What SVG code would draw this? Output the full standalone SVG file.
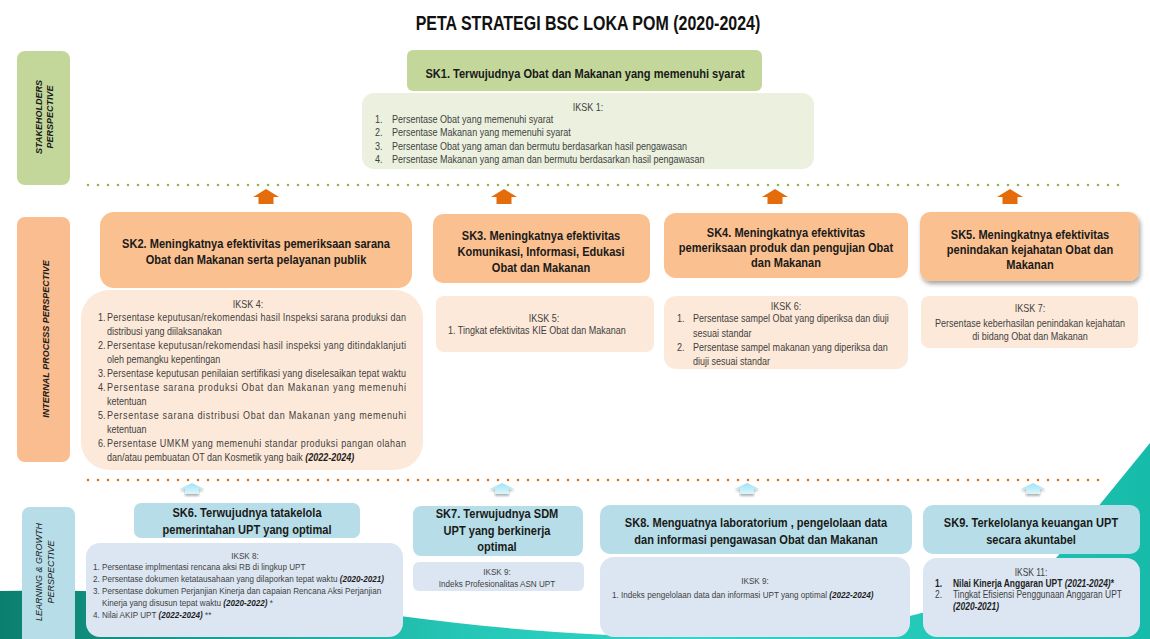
<svg xmlns="http://www.w3.org/2000/svg" width="1150" height="639" viewBox="0 0 1150 639">
<defs>
<style>
text{font-family:"Liberation Sans",Arial,sans-serif}
.ttl{font-size:19.5px;font-weight:bold;fill:#111;text-anchor:middle}
.sk{font-size:13.5px;font-weight:bold;fill:#1a1a1a;text-anchor:middle}
.b{font-size:11px;fill:#3f3f3f}
.s{font-size:9.9px;fill:#3f3f3f}
.s2{font-size:10.3px;fill:#3f3f3f}
.c{text-anchor:middle}
.bi{font-weight:bold;font-style:italic;fill:#1f1f1f}
.bd{font-weight:bold;fill:#1f1f1f}
.lab{font-size:9px;font-style:italic;fill:#1a1a1a;text-anchor:middle}
.g1{fill:#c4d79b}.g2{fill:#ebf1de}.o1{fill:#fac090}.o2{fill:#fde9d9}.u1{fill:#b7dee8}.u2{fill:#dce6f2}
.oa{fill:#e46c0a}
.ba{fill:url(#bag);filter:url(#ash)}
</style>
<linearGradient id="teal" x1="0" y1="0" x2="1" y2="0">
<stop offset="0" stop-color="#0b7f6f"/>
<stop offset="0.4" stop-color="#25c6b6"/>
<stop offset="0.6" stop-color="#30d6c8"/>
<stop offset="1" stop-color="#16bba9"/>
</linearGradient>
<linearGradient id="bag" x1="0" y1="0" x2="0" y2="1">
<stop offset="0" stop-color="#9fe3f5"/>
<stop offset="1" stop-color="#dcf6fc"/>
</linearGradient>
<filter id="sh" x="-10%" y="-20%" width="125%" height="150%">
<feDropShadow dx="1.5" dy="3" stdDeviation="2" flood-color="#000" flood-opacity="0.35"/>
</filter>
<filter id="ash" x="-40%" y="-40%" width="180%" height="220%">
<feDropShadow dx="0" dy="2" stdDeviation="1.2" flood-color="#000" flood-opacity="0.3"/>
</filter>
<path id="oarr" d="M-13,8 L0,0 L13,8 L7.5,8 L7.5,15 L-7.5,15 L-7.5,8 Z"/>
<path id="barr" d="M-12.5,6 L0,0 L12.5,6 L7,6 L7,11 L-7,11 L-7,6 Z"/>
</defs>

<rect width="1150" height="639" fill="#ffffff"/>
<path id="wave" d="M0,591 C120,588 260,598 400,616 C520,632 640,640 760,636 C860,632 960,610 1040,570 L1057,557 L1150,443 L1150,639 L0,639 Z" fill="url(#teal)"/>

<text class="ttl" transform="matrix(.82 0 0 1 588 30)">PETA STRATEGI BSC LOKA POM (2020-2024)</text>

<!-- perspective labels -->
<g id="lab-stakeholders">
<rect class="g1" x="17" y="51" width="53" height="134" rx="8"/>
<text class="lab" font-weight="bold" transform="translate(41.5,117) rotate(-90)">STAKEHOLDERS</text>
<text class="lab" font-weight="bold" transform="translate(52.5,117) rotate(-90)">PERSPECTIVE</text>
</g>
<g id="lab-internal">
<rect x="17" y="217" width="53" height="245" rx="8" fill="#f9bd8f"/>
<text class="lab" font-weight="bold" transform="translate(48.5,339) rotate(-90)">INTERNAL PROCESS PERSPECTIVE</text>
</g>
<g id="lab-learning">
<rect class="u1" x="22" y="507" width="53" height="150" rx="8"/>
<text class="lab" font-size="9.6" transform="translate(41.5,572) rotate(-90)">LEARNING &amp; GROWTH</text>
<text class="lab" font-size="9.6" transform="translate(53.5,572) rotate(-90)">PERSPECTIVE</text>
</g>

<!-- connectors -->
<g id="connectors">
<line x1="88" y1="185" x2="1125" y2="185" stroke="#8fb54a" stroke-width="2.6" stroke-linecap="round" stroke-dasharray="0 10"/>
<line x1="88" y1="480" x2="1105" y2="480" stroke="#e46c0a" stroke-width="2.6" stroke-linecap="round" stroke-dasharray="0 10"/>
<use href="#oarr" class="oa" x="266" y="189"/>
<use href="#oarr" class="oa" x="504" y="189"/>
<use href="#oarr" class="oa" x="775" y="189"/>
<use href="#oarr" class="oa" x="1010" y="189"/>
<use href="#barr" class="ba" x="192" y="483"/>
<use href="#barr" class="ba" x="502" y="483"/>
<use href="#barr" class="ba" x="747" y="483"/>
<use href="#barr" class="ba" x="1033" y="483"/>
</g>

<!-- SK1 -->
<g id="sk1">
<rect class="g1" x="407" y="50" width="355" height="41" rx="6"/>
<text class="sk" transform="matrix(.82 0 0 1 585 77.5)">SK1. Terwujudnya Obat dan Makanan yang memenuhi syarat</text>
</g>
<g id="iksk1">
<rect class="g2" x="362" y="93" width="452" height="76" rx="12"/>
<text class="b c" transform="matrix(.82 0 0 1 588 111)">IKSK 1:</text>
<text class="b" transform="matrix(.82 0 0 1 375 123)">1.</text><text class="b" transform="matrix(.82 0 0 1 392 123)">Persentase Obat yang memenuhi syarat</text>
<text class="b" transform="matrix(.82 0 0 1 375 136.3)">2.</text><text class="b" transform="matrix(.82 0 0 1 392 136.3)">Persentase Makanan yang memenuhi syarat</text>
<text class="b" transform="matrix(.82 0 0 1 375 149.7)">3.</text><text class="b" transform="matrix(.82 0 0 1 392 149.7)">Persentase Obat yang aman dan bermutu berdasarkan hasil pengawasan</text>
<text class="b" transform="matrix(.82 0 0 1 375 163)">4.</text><text class="b" transform="matrix(.82 0 0 1 392 163)">Persentase Makanan yang aman dan bermutu berdasarkan hasil pengawasan</text>
</g>

<!-- SK2 -->
<g id="sk2">
<rect class="o1" x="100" y="212" width="312" height="76" rx="14"/>
<text class="sk" transform="matrix(.82 0 0 1 256 247.5)">SK2. Meningkatnya efektivitas pemeriksaan sarana</text>
<text class="sk" transform="matrix(.82 0 0 1 256 263.5)">Obat dan Makanan serta pelayanan publik</text>
</g>
<g id="iksk4">
<rect class="o2" x="81" y="290" width="342" height="180" rx="28"/>
<text class="b c" transform="matrix(.82 0 0 1 248 308)">IKSK 4:</text>
<text class="b" transform="matrix(.82 0 0 1 98 321)">1.</text><text class="b" transform="matrix(.82 0 0 1 107 321)" textLength="364.6" lengthAdjust="spacing">Persentase keputusan/rekomendasi hasil Inspeksi sarana produksi dan</text>
<text class="b" transform="matrix(.82 0 0 1 107 335)">distribusi yang diilaksanakan</text>
<text class="b" transform="matrix(.82 0 0 1 98 349)">2.</text><text class="b" transform="matrix(.82 0 0 1 107 349)" textLength="364.6" lengthAdjust="spacing">Persentase keputusan/rekomendasi hasil inspeksi yang ditindaklanjuti</text>
<text class="b" transform="matrix(.82 0 0 1 107 363)">oleh pemangku kepentingan</text>
<text class="b" transform="matrix(.82 0 0 1 98 377)">3.</text><text class="b" transform="matrix(.82 0 0 1 107 377)" textLength="364.6" lengthAdjust="spacing">Persentase keputusan penilaian sertifikasi yang diselesaikan tepat waktu</text>
<text class="b" transform="matrix(.82 0 0 1 98 391)">4.</text><text class="b" transform="matrix(.82 0 0 1 107 391)" textLength="364.6" lengthAdjust="spacing">Persentase sarana produksi Obat dan Makanan yang memenuhi</text>
<text class="b" transform="matrix(.82 0 0 1 107 405)">ketentuan</text>
<text class="b" transform="matrix(.82 0 0 1 98 419)">5.</text><text class="b" transform="matrix(.82 0 0 1 107 419)" textLength="364.6" lengthAdjust="spacing">Persentase sarana distribusi Obat  dan Makanan yang memenuhi</text>
<text class="b" transform="matrix(.82 0 0 1 107 433)">ketentuan</text>
<text class="b" transform="matrix(.82 0 0 1 98 447)">6.</text><text class="b" transform="matrix(.82 0 0 1 107 447)" textLength="364.6" lengthAdjust="spacing">Persentase UMKM yang memenuhi standar produksi pangan olahan</text>
<text class="b" transform="matrix(.82 0 0 1 107 461)">dan/atau pembuatan OT dan Kosmetik yang baik <tspan class="bi">(2022-2024)</tspan></text>
</g>

<!-- SK3 -->
<g id="sk3">
<rect class="o1" x="433" y="214" width="217" height="69" rx="10"/>
<text class="sk" transform="matrix(.82 0 0 1 541 240)">SK3. Meningkatnya efektivitas</text>
<text class="sk" transform="matrix(.82 0 0 1 541 256)">Komunikasi, Informasi, Edukasi</text>
<text class="sk" transform="matrix(.82 0 0 1 541 272)">Obat dan Makanan</text>
</g>
<g id="iksk5">
<rect class="o2" x="436" y="296" width="218" height="56" rx="8"/>
<text class="b c" transform="matrix(.82 0 0 1 544 322)">IKSK 5:</text>
<text class="b" transform="matrix(.82 0 0 1 448 334)">1. Tingkat efektivitas KIE Obat dan Makanan</text>
</g>

<!-- SK4 -->
<g id="sk4">
<rect class="o1" x="664" y="213" width="244" height="65" rx="12"/>
<text class="sk" transform="matrix(.82 0 0 1 786 237)">SK4. Meningkatnya efektivitas</text>
<text class="sk" transform="matrix(.82 0 0 1 786 252)">pemeriksaan produk dan pengujian Obat</text>
<text class="sk" transform="matrix(.82 0 0 1 786 267)">dan Makanan</text>
</g>
<g id="iksk6">
<rect class="o2" x="664" y="296" width="244" height="73" rx="12"/>
<text class="b c" transform="matrix(.82 0 0 1 786 310)">IKSK 6:</text>
<text class="b" transform="matrix(.82 0 0 1 677 322)">1.</text><text class="b" transform="matrix(.82 0 0 1 693 322)">Persentase sampel Obat yang diperiksa dan diuji</text>
<text class="b" transform="matrix(.82 0 0 1 693 337)">sesuai standar</text>
<text class="b" transform="matrix(.82 0 0 1 677 351)">2.</text><text class="b" transform="matrix(.82 0 0 1 693 351)">Persentase sampel makanan yang diperiksa dan</text>
<text class="b" transform="matrix(.82 0 0 1 693 365)">diuji sesuai standar</text>
</g>

<!-- SK5 -->
<g id="sk5">
<rect class="o1" x="920" y="212" width="219" height="69" rx="10" filter="url(#sh)"/>
<text class="sk" transform="matrix(.82 0 0 1 1030 239)">SK5. Meningkatnya efektivitas</text>
<text class="sk" transform="matrix(.82 0 0 1 1030 254)">penindakan kejahatan Obat dan</text>
<text class="sk" transform="matrix(.82 0 0 1 1030 269)">Makanan</text>
</g>
<g id="iksk7">
<rect class="o2" x="921" y="296" width="217" height="52" rx="8"/>
<text class="b c" transform="matrix(.82 0 0 1 1030 312)">IKSK 7:</text>
<text class="b c" transform="matrix(.82 0 0 1 1030 327)">Persentase keberhasilan penindakan kejahatan</text>
<text class="b c" transform="matrix(.82 0 0 1 1030 340)">di bidang Obat dan Makanan</text>
</g>

<!-- SK6 -->
<g id="sk6">
<rect class="u1" x="134" y="503" width="226" height="35" rx="7"/>
<text class="sk" transform="matrix(.82 0 0 1 247 517)">SK6. Terwujudnya tatakelola</text>
<text class="sk" transform="matrix(.82 0 0 1 247 534)">pemerintahan UPT yang optimal</text>
</g>
<g id="iksk8">
<rect class="u2" x="86" y="543" width="317" height="94" rx="14"/>
<text class="s c" transform="matrix(.82 0 0 1 245 558.5)">IKSK 8:</text>
<text class="s" transform="matrix(.82 0 0 1 93 569.5)">1. Persentase implmentasi rencana aksi RB di lingkup UPT</text>
<text class="s" transform="matrix(.82 0 0 1 93 581.5)">2. Persentase dokumen ketatausahaan yang dilaporkan tepat waktu <tspan class="bi">(2020-2021)</tspan></text>
<text class="s" transform="matrix(.82 0 0 1 93 593.5)">3. Persentase dokumen Perjanjian Kinerja dan capaian Rencana Aksi Perjanjian</text>
<text class="s" transform="matrix(.82 0 0 1 102 605.5)">Kinerja yang disusun tepat waktu <tspan class="bi">(2020-2022)</tspan> *</text>
<text class="s" transform="matrix(.82 0 0 1 93 617.5)">4. Nilai AKIP UPT <tspan class="bi">(2022-2024)</tspan> **</text>
</g>

<!-- SK7 -->
<g id="sk7">
<rect class="u1" x="413" y="506" width="170" height="50" rx="8"/>
<text class="sk" transform="matrix(.82 0 0 1 497 518)">SK7. Terwujudnya SDM</text>
<text class="sk" transform="matrix(.82 0 0 1 497 535)">UPT yang berkinerja</text>
<text class="sk" transform="matrix(.82 0 0 1 497 551)">optimal</text>
</g>
<g id="iksk9a">
<rect class="u2" x="413" y="562" width="171" height="29" rx="6"/>
<text class="s c" transform="matrix(.82 0 0 1 497 575)">IKSK 9:</text>
<text class="s c" transform="matrix(.82 0 0 1 497 587)">Indeks Profesionalitas ASN UPT</text>
</g>

<!-- SK8 -->
<g id="sk8">
<rect class="u1" x="600" y="505" width="312" height="49" rx="10"/>
<text class="sk" transform="matrix(.82 0 0 1 756 527)">SK8. Menguatnya laboratorium , pengelolaan data</text>
<text class="sk" transform="matrix(.82 0 0 1 756 544)">dan informasi pengawasan Obat dan Makanan</text>
</g>
<g id="iksk9b">
<rect class="u2" x="600" y="557" width="310" height="80" rx="14"/>
<text class="s c" transform="matrix(.82 0 0 1 755 584)">IKSK 9:</text>
<text class="s" transform="matrix(.82 0 0 1 612 598)">1. Indeks pengelolaan data dan informasi UPT yang optimal <tspan class="bi">(2022-2024)</tspan></text>
</g>

<!-- SK9 -->
<g id="sk9">
<rect class="u1" x="923" y="505" width="217" height="49" rx="10"/>
<text class="sk" transform="matrix(.82 0 0 1 1031 527)">SK9. Terkelolanya keuangan UPT</text>
<text class="sk" transform="matrix(.82 0 0 1 1031 544)">secara akuntabel</text>
</g>
<g id="iksk11">
<rect class="u2" x="923" y="558" width="217" height="79" rx="14"/>
<text class="s2 c" transform="matrix(.82 0 0 1 1031 575.5)">IKSK 11:</text>
<text class="s2 bd" transform="matrix(.82 0 0 1 935 586.5)">1.</text><text class="s2 bd" transform="matrix(.82 0 0 1 953 586.5)">Nilai Kinerja Anggaran UPT <tspan class="bi">(2021-2024)</tspan>*</text>
<text class="s2" transform="matrix(.82 0 0 1 935 598)">2.</text><text class="s2" transform="matrix(.82 0 0 1 953 598)">Tingkat Efisiensi Penggunaan Anggaran UPT</text>
<text class="s2 bi" transform="matrix(.82 0 0 1 953 610)">(2020-2021)</text>
</g>
</svg>
